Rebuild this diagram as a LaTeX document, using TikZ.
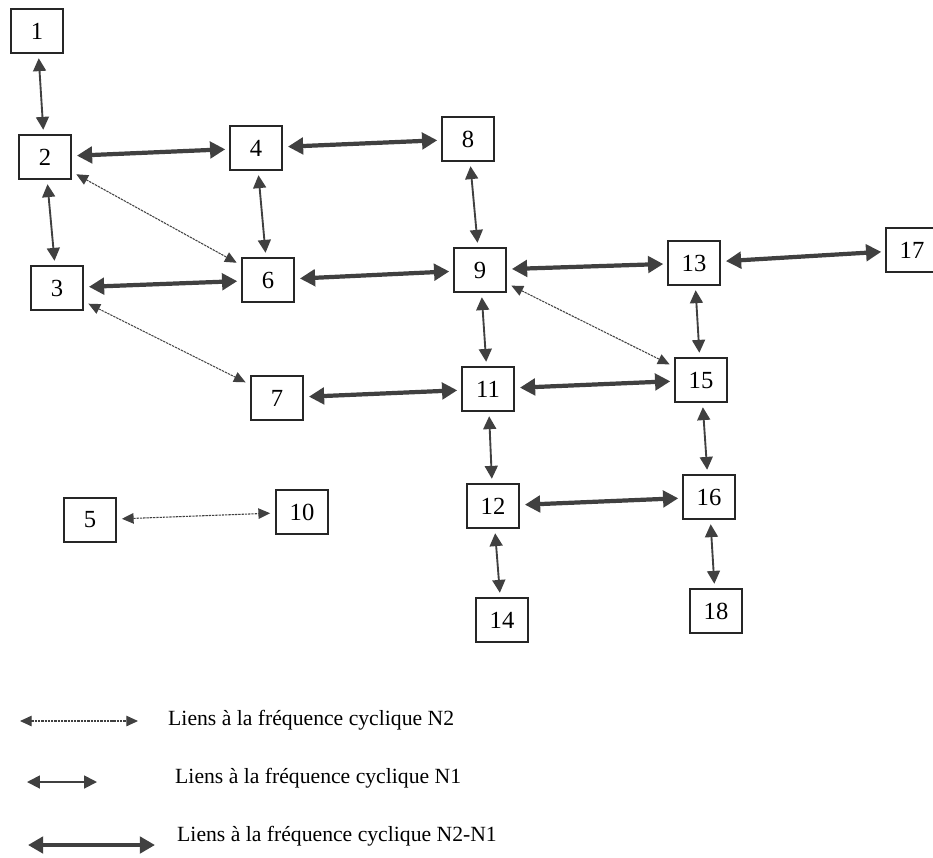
\documentclass[tikz,border=0pt]{standalone}
\usepackage{fontspec}
\setmainfont{Liberation Serif}
\usetikzlibrary{arrows.meta}
\definecolor{trait}{HTML}{404040}
\tikzstyle{bloc}=[draw=black!85,line width=1.5pt,rectangle,minimum width=1.58cm,minimum height=1.3cm,inner sep=0pt,font=\fontsize{21}{24}\selectfont]
\tikzstyle{lienN2}=[draw=trait,line width=0.9pt,dash pattern=on 2pt off 0.8pt,{Triangle[length=10pt,width=9pt]}-{Triangle[length=10pt,width=9pt]},shorten <=4pt,shorten >=4pt]
\tikzstyle{lienN1}=[draw=trait,line width=1.6pt,{Triangle[length=11pt,width=11pt]}-{Triangle[length=11pt,width=11pt]},shorten <=4pt,shorten >=4pt]
\tikzstyle{lienNN}=[draw=trait,line width=3.6pt,{Triangle[length=13pt,width=14pt]}-{Triangle[length=13pt,width=14pt]},shorten <=4pt,shorten >=3pt]
\tikzstyle{legende}=[anchor=west,inner sep=0pt,font=\fontsize{18.5}{22}\selectfont]

\begin{document}
\begin{tikzpicture}[x=0.03cm,y=-0.03cm]
    \useasboundingbox (0,0) rectangle (933,857);
    \node[bloc] (n1) at (37,31) {1};
    \node[bloc] (n2) at (45,157) {2};
    \node[bloc] (n3) at (57,288) {3};
    \node[bloc] (n4) at (256,148) {4};
    \node[bloc] (n5) at (90,520) {5};
    \node[bloc] (n6) at (268,280) {6};
    \node[bloc] (n7) at (277,398) {7};
    \node[bloc] (n8) at (468,139) {8};
    \node[bloc] (n9) at (480,270) {9};
    \node[bloc] (n10) at (302,512) {10};
    \node[bloc] (n11) at (488,389) {11};
    \node[bloc] (n12) at (493,506) {12};
    \node[bloc] (n13) at (694,263) {13};
    \node[bloc] (n14) at (502,620) {14};
    \node[bloc] (n15) at (701,380) {15};
    \node[bloc] (n16) at (709,497) {16};
    \node[bloc] (n17) at (912,250) {17};
    \node[bloc] (n18) at (716,611) {18};

    \foreach \from/\to in {n2/n6,n3/n7,n9/n15,n5/n10}
    \draw[lienN2] (\from) -- (\to);
    \foreach \from/\to in {n1/n2,n2/n3,n4/n6,n8/n9,n9/n11,n13/n15,n11/n12,n15/n16,n12/n14,n16/n18}
    \draw[lienN1] (\from) -- (\to);
    \foreach \from/\to in {n2/n4,n4/n8,n3/n6,n6/n9,n9/n13,n13/n17,n7/n11,n11/n15,n12/n16}
    \draw[lienNN] (\from) -- (\to);

    % legende
    \coordinate (a1) at (20,721);
    \coordinate (b1) at (138,721);
    \coordinate (a2) at (27,782);
    \coordinate (b2) at (97,782);
    \coordinate (a3) at (28,845);
    \coordinate (b3) at (155,845);
    \draw[lienN2,shorten <=0pt,shorten >=0pt] (a1) -- (b1);
    \draw[lienN1,shorten <=0pt,shorten >=0pt] (a2) -- (b2);
    \draw[lienNN,shorten <=0pt,shorten >=0pt] (a3) -- (b3);
    \node[legende] (t1) at (168,720) {Liens à la fréquence cyclique N2};
    \node[legende] (t2) at (175,778) {Liens à la fréquence cyclique N1};
    \node[legende] (t3) at (177,836) {Liens à la fréquence cyclique N2-N1};
\end{tikzpicture}
\end{document}
